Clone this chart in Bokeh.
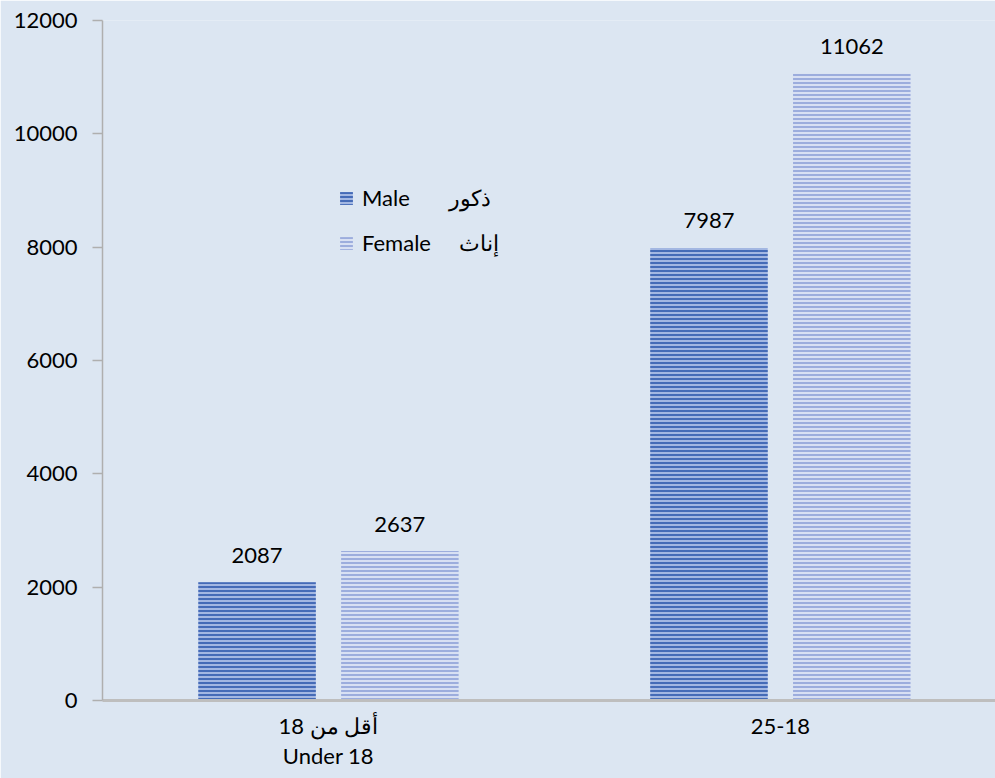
from bokeh.plotting import figure
from bokeh.models import ColumnDataSource, LabelSet, Legend, LegendItem, Range1d, FixedTicker
from bokeh.core.properties import value
from bokeh.transform import dodge
from bokeh.embed import file_html
from bokeh.resources import INLINE

categories = ["أقل من 18\nUnder 18", "25-18"]
male = [2087, 7987]
female = [2637, 11062]
y_ticks = [0, 2000, 4000, 6000, 8000, 10000, 12000]
male_label = "Male       ذكور"
female_label = "Female     إناث"

idx = list(range(len(categories)))
src = ColumnDataSource(dict(idx=idx, male=male, female=female,
                            male_txt=[str(v) for v in male],
                            female_txt=[str(v) for v in female]))

BG = "#DCE6F2"
FONT = "Lato"
FS = "22px"

p = figure(width=995, height=778, output_backend="svg", toolbar_location=None,
           x_range=Range1d(-0.5, 1.476), y_range=Range1d(0, 12000),
           min_border_left=102, min_border_right=0, min_border_top=20, min_border_bottom=78)
p.background_fill_color = BG
p.border_fill_color = BG
p.outline_line_color = None
p.xgrid.visible = False
p.ygrid.visible = False

off = 0.158
w = 0.26
rm = p.vbar(x=dodge("idx", -off), top="male", width=w, source=src,
            fill_color="#A3B7E2", line_color=None,
            hatch_pattern="-", hatch_color="#3A62B2", hatch_scale=4, hatch_weight=1.8)
rf = p.vbar(x=dodge("idx", off), top="female", width=w, source=src,
            fill_color="#D8E0F3", line_color=None,
            hatch_pattern="-", hatch_color="#95A7DB", hatch_scale=4, hatch_weight=1.8)

for col, o in (("male_txt", -off), ("female_txt", off)):
    ycol = "male" if col == "male_txt" else "female"
    p.add_layout(LabelSet(x=dodge("idx", o), y=ycol, text=col, source=src,
                          text_align="center", text_baseline="middle", y_offset=27,
                          text_font=value(FONT), text_font_size=value(FS),
                          text_color="#000000"))

legend = Legend(items=[LegendItem(label=male_label, renderers=[rm]),
                       LegendItem(label=female_label, renderers=[rf])],
                location=(236, 444), orientation="vertical",
                background_fill_alpha=0, border_line_color=None,
                padding=0, margin=0, spacing=18,
                glyph_width=16, glyph_height=16, label_height=24, label_standoff=8,
                label_text_font=FONT, label_text_font_size=FS, label_text_color="#000000")
p.add_layout(legend)

# y axis
p.yaxis.ticker = FixedTicker(ticks=y_ticks)
p.yaxis.axis_line_color = "#AFAFAF"
p.yaxis.axis_line_width = 1.5
p.yaxis.major_tick_line_color = "#AFAFAF"
p.yaxis.major_tick_line_width = 1.5
p.yaxis.major_tick_out = 10
p.yaxis.major_tick_in = 0
p.yaxis.minor_tick_line_color = None
p.yaxis.major_label_standoff = 15
p.yaxis.major_label_text_font = FONT
p.yaxis.major_label_text_font_size = FS
p.yaxis.major_label_text_color = "#000000"

# x axis
p.xaxis.ticker = FixedTicker(ticks=idx)
p.xaxis.major_label_overrides = {i: c for i, c in zip(idx, categories)}
p.xaxis.axis_line_color = "#BEBEBE"
p.xaxis.axis_line_width = 3
p.xaxis.major_tick_line_color = None
p.xaxis.minor_tick_line_color = None
p.xaxis.major_label_standoff = 5
p.xaxis.major_label_text_font = FONT
p.xaxis.major_label_text_font_size = FS
p.xaxis.major_label_text_color = "#000000"
p.xaxis.major_label_text_line_height = 1.12

open("out.html", "w").write(file_html(p, INLINE))
